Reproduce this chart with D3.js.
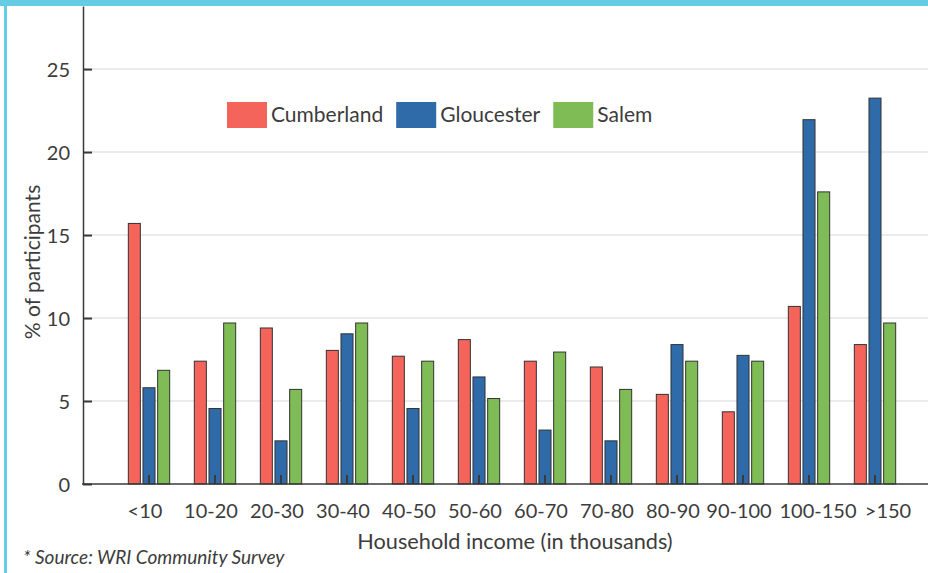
<!DOCTYPE html>
<html>
<head>
<meta charset="utf-8">
<script src="https://cdn.jsdelivr.net/npm/d3@7"></script>
<style>
  body { margin: 0; background: #fff; }
  svg text { font-family: Lato, "Open Sans", sans-serif; fill: #3c3c3c; }
</style>
</head>
<body>
<div id="chart"></div>
<script>
// data
const categories = ['<10', '10-20', '20-30', '30-40', '40-50', '50-60', '60-70', '70-80', '80-90', '90-100', '100-150', '>150'];
const series = ['Cumberland', 'Gloucester', 'Salem'];
const cumberland = [15.7, 7.4, 9.4, 8.05, 7.7, 8.7, 7.4, 7.05, 5.4, 4.35, 10.7, 8.4];
const gloucester = [5.8, 4.55, 2.6, 9.05, 4.55, 6.45, 3.25, 2.6, 8.4, 7.75, 21.95, 23.25];
const salem = [6.85, 9.7, 5.7, 9.7, 7.4, 5.15, 7.95, 5.7, 7.4, 7.4, 17.6, 9.7];
const yTicks = [0, 5, 10, 15, 20, 25];
const colors = ['#F5645A', '#2F6AA9', '#7FBC56'];

const values = [cumberland, gloucester, salem];

const W = 928, H = 573;
const svg = d3.select('#chart').append('svg')
  .attr('width', W).attr('height', H);

// frame
svg.append('rect').attr('x', 0).attr('y', 0).attr('width', W).attr('height', 6).attr('fill', '#66CCE3');
svg.append('rect').attr('x', 4).attr('y', 0).attr('width', 3).attr('height', H).attr('fill', '#66CCE3');

// scales
const y = d3.scaleLinear().domain([0, 28.8]).range([484, 6]);
const x0 = d3.scaleBand().domain(categories).range([116, 908]);
const x1 = d3.scaleBand().domain(series).range([-22, 22]);
const color = d3.scaleOrdinal().domain(series).range(colors);
const barW = x1.bandwidth() * 0.82;

// grid
svg.append('g')
  .selectAll('line')
  .data(yTicks.filter(d => d > 0))
  .join('line')
    .attr('x1', 84).attr('x2', W)
    .attr('y1', d => y(d)).attr('y2', d => y(d))
    .attr('stroke', '#e4e4e4').attr('stroke-width', 1.5);

// bars
const rows = categories.map((c, i) => ({ cat: c, vals: series.map((s, j) => ({ key: s, v: values[j][i] })) }));

svg.append('g')
  .selectAll('g')
  .data(rows)
  .join('g')
    .attr('transform', d => `translate(${x0(d.cat) + x0.bandwidth() / 2},0)`)
  .selectAll('rect')
  .data(d => d.vals)
  .join('rect')
    .attr('x', d => x1(d.key) + (x1.bandwidth() - barW) / 2)
    .attr('y', d => y(d.v))
    .attr('width', barW)
    .attr('height', d => y(0) - y(d.v))
    .attr('fill', d => color(d.key))
    .attr('stroke', '#333')
    .attr('stroke-width', 1);

// y axis
const yAxis = svg.append('g')
  .attr('transform', 'translate(83,0)')
  .call(d3.axisLeft(y).tickValues(yTicks).tickSize(-9).tickSizeOuter(0).tickPadding(13));
yAxis.select('.domain').attr('stroke', '#3a3a3a').attr('stroke-width', 1.5);
yAxis.selectAll('.tick line').attr('stroke', '#3a3a3a').attr('stroke-width', 2);
yAxis.selectAll('.tick text').style('font-size', '20px').attr('dy', '0.36em');

// x axis
const xAxis = svg.append('g')
  .attr('transform', 'translate(0,484)')
  .call(d3.axisBottom(x0).tickSize(-9).tickPadding(20));
xAxis.select('.domain').remove();
xAxis.selectAll('.tick line').attr('stroke', '#3a3a3a').attr('stroke-width', 2);
// the last two labels sit a bit to the right in the original
xAxis.selectAll('.tick text').style('font-size', '20px')
  .attr('dx', (d, i) => i === 10 ? 9 : i === 11 ? 13 : -4);
svg.append('line')
  .attr('x1', 82).attr('x2', W).attr('y1', 484).attr('y2', 484)
  .attr('stroke', '#3a3a3a').attr('stroke-width', 1.5);

// axis titles
svg.append('text')
  .attr('transform', 'translate(40,262) rotate(-90)')
  .attr('text-anchor', 'middle')
  .style('font-size', '21px')
  .text('% of participants');

svg.append('text')
  .attr('x', 515).attr('y', 549)
  .attr('text-anchor', 'middle')
  .style('font-size', '21.7px')
  .text('Household income (in thousands)');

svg.append('text')
  .attr('x', 23).attr('y', 564)
  .style('font-size', '19px')
  .style('font-style', 'italic')
  .text('* Source: WRI Community Survey');

// legend
const legend = svg.append('g').attr('transform', 'translate(227,102)');
let lx = 0;
series.forEach((s, i) => {
  const g = legend.append('g').attr('transform', `translate(${lx},0)`);
  g.append('rect').attr('width', 40).attr('height', 26).attr('fill', color(s));
  const t = g.append('text').attr('x', 44).attr('y', 20).style('font-size', '21px').text(s);
  lx += 44 + t.node().getComputedTextLength() + 13;
});
</script>
</body>
</html>
